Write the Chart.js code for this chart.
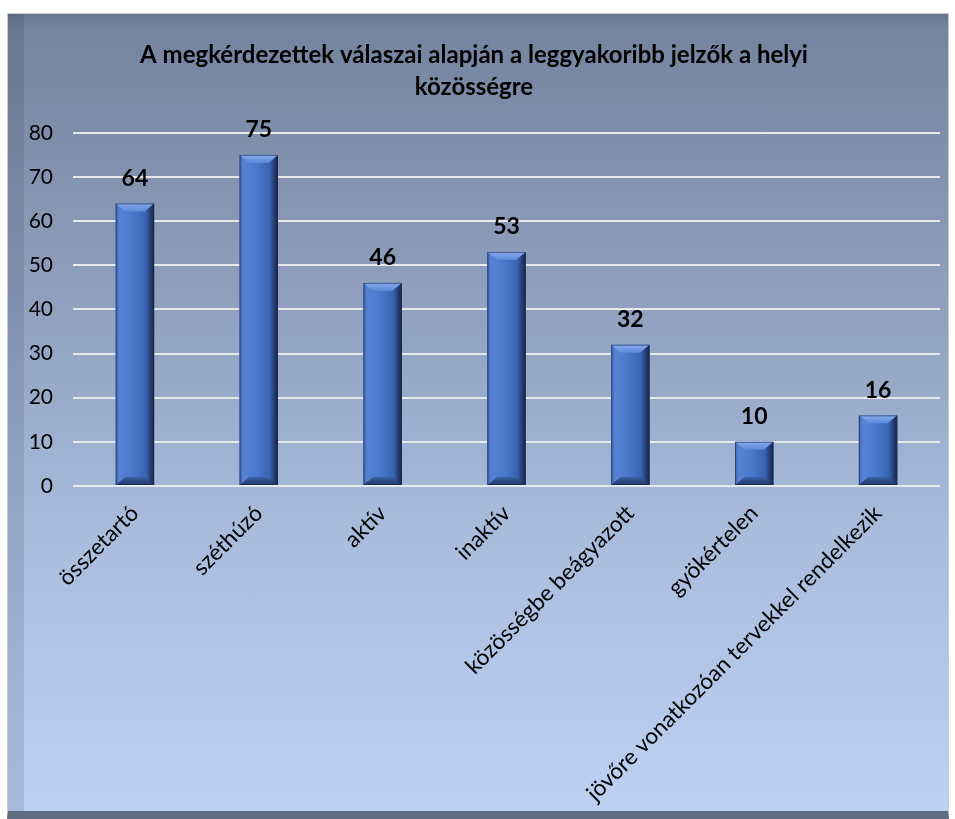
<!DOCTYPE html>
<html>
<head>
<meta charset="utf-8">
<script src="https://cdn.jsdelivr.net/npm/chart.js@4/dist/chart.umd.min.js"></script>
<style>
  body { margin: 0; background: #fff; }
  #frame {
    position: absolute; left: 7px; top: 13px; width: 940px; height: 797px;
    border: 1px solid #c9cbd0;
    border-bottom: 8px solid #5f6c82;
    background: linear-gradient(to bottom, #73829d 0%, #8f9fbd 35%, #a9bcdc 65%, #bdd1f3 100%);
    box-shadow: inset 16px 0 0 rgba(40, 52, 80, 0.14), inset 0 14px 10px -8px rgba(40, 52, 80, 0.18);
  }
  #wrap { position: absolute; left: 0; top: 0; width: 940px; height: 797px; }
</style>
</head>
<body>
<div id="frame"><div id="wrap"><canvas id="chart"></canvas></div></div>
<script>
const categories = ['összetartó', 'széthúzó', 'aktív', 'inaktív', 'közösségbe beágyazott', 'gyökértelen', 'jövőre vonatkozóan tervekkel rendelkezik'];
const counts = [64, 75, 46, 53, 32, 10, 16];
const yMax = 80;
const yStep = 10;
const titleLines = ['A megkérdezettek válaszai alapján a leggyakoribb jelzők a helyi', 'közösségre'];

const FONT = 'Lato, "Liberation Sans", sans-serif';

// 3D-ish bevel on top of the plain bars
const bevelBars = {
  id: 'bevelBars',
  afterDatasetsDraw(chart) {
    const ctx = chart.ctx;
    chart.getDatasetMeta(0).data.forEach(bar => {
      const left = bar.x - bar.width / 2, right = bar.x + bar.width / 2;
      const top = bar.y, bottom = bar.base;
      const b = Math.min(8, (bottom - top) / 2);
      ctx.save();
      let g = ctx.createLinearGradient(left, 0, right, 0);
      g.addColorStop(0, '#3b64ad');
      g.addColorStop(0.1, '#5683d4');
      g.addColorStop(0.45, '#4a78cc');
      g.addColorStop(0.78, '#3a63b2');
      g.addColorStop(0.92, '#22396b');
      g.addColorStop(1, '#142444');
      ctx.fillStyle = g;
      ctx.fillRect(left, top, right - left, bottom - top);
      // top bevel
      g = ctx.createLinearGradient(0, top, 0, top + b);
      g.addColorStop(0, '#86abef');
      g.addColorStop(1, '#5b88d8');
      ctx.fillStyle = g;
      ctx.beginPath();
      ctx.moveTo(left, top); ctx.lineTo(right, top);
      ctx.lineTo(right - b * 1.2, top + b); ctx.lineTo(left + b * 1.2, top + b);
      ctx.closePath(); ctx.fill();
      // bottom bevel
      g = ctx.createLinearGradient(0, bottom - b, 0, bottom);
      g.addColorStop(0, '#3a62aa');
      g.addColorStop(1, '#1f3562');
      ctx.fillStyle = g;
      ctx.beginPath();
      ctx.moveTo(left, bottom); ctx.lineTo(right, bottom);
      ctx.lineTo(right - b * 1.2, bottom - b); ctx.lineTo(left + b * 1.2, bottom - b);
      ctx.closePath(); ctx.fill();
      ctx.strokeStyle = 'rgba(30,45,80,0.6)';
      ctx.lineWidth = 1;
      ctx.strokeRect(left + 0.5, top + 0.5, right - left - 1, bottom - top - 1);
      ctx.restore();
    });
  }
};

// value labels above the bars
const valueLabels = {
  id: 'valueLabels',
  afterDatasetsDraw(chart) {
    const ctx = chart.ctx;
    ctx.save();
    ctx.font = 'bold 23px ' + FONT;
    ctx.fillStyle = '#000';
    ctx.textAlign = 'center';
    ctx.textBaseline = 'middle';
    chart.getDatasetMeta(0).data.forEach((bar, i) => {
      ctx.fillText(String(counts[i]), bar.x, bar.y - 25);
    });
    ctx.restore();
  }
};

new Chart(document.getElementById('chart'), {
  type: 'bar',
  data: {
    labels: categories,
    datasets: [{
      data: counts,
      backgroundColor: '#4a78cc',
      categoryPercentage: 1,
      barPercentage: 0.31
    }]
  },
  plugins: [bevelBars, valueLabels],
  options: {
    responsive: true,
    maintainAspectRatio: false,
    animation: false,
    layout: { padding: { left: 0, right: 8, top: 0, bottom: 0 } },
    plugins: {
      legend: { display: false },
      tooltip: { enabled: false },
      title: {
        display: true,
        text: titleLines,
        color: '#000',
        font: { family: FONT, size: 24, weight: 'bold', lineHeight: 1.33 },
        padding: { top: 25, bottom: 30 }
      }
    },
    scales: {
      x: {
        grid: { display: false },
        border: { display: false },
        ticks: {
          color: '#000',
          font: { family: FONT, size: 22.5 },
          minRotation: 45,
          maxRotation: 45,
          autoSkip: false,
          padding: 6
        },
        afterFit(scale) { scale.height = 325; }
      },
      y: {
        min: 0,
        max: yMax,
        grid: { color: '#e6e8ea', lineWidth: 2, drawTicks: false },
        border: { display: false },
        ticks: {
          stepSize: yStep,
          color: '#000',
          font: { family: FONT, size: 21 },
          padding: 20
        },
        afterFit(scale) { scale.width = 65; }
      }
    }
  }
});
</script>
</body>
</html>
